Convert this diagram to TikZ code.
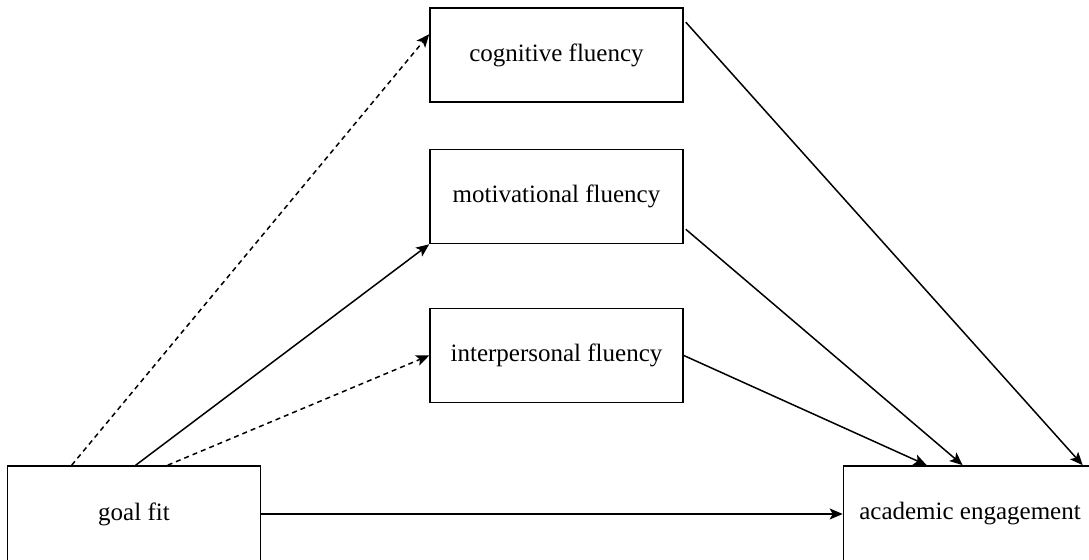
\documentclass[tikz,border=0pt]{standalone}
\usepackage{fontspec}
\setmainfont{Liberation Serif}
\usetikzlibrary{arrows.meta,calc}

\begin{document}
\begin{tikzpicture}[x=0.5pt, y=-0.5pt,
    box/.style={draw, line width=0.8pt, minimum width=126.5pt, minimum height=47pt,
                inner sep=0pt, font=\fontsize{12.5}{15}\selectfont},
    link/.style={-{Stealth[length=6.5pt, width=5.5pt, inset=1.5pt]}, line width=0.75pt},
    dlink/.style={link, dash pattern=on 2.5pt off 2pt}]
    \useasboundingbox (0,0) rectangle (1089,560);
    \clip (0,0) rectangle (1089,560);

    % mediators
    \node[box] (cog)   at (556.5,55)    {cognitive fluency};
    \node[box] (mot)   at (556.5,196.5) {motivational fluency};
    \node[box] (inter) at (556.5,355.5) {interpersonal fluency};

    % predictor and outcome (cut by the page edge)
    \node[box, minimum height=48pt] (goal) at (134,514) {goal fit};
    \node[box, minimum height=48pt] (acad) at (970,514) {academic engagement};

    % paths a
    \draw[dlink] ($(goal.north west)+(65,0)$)  -- ($(cog.north west)+(0,27)$);
    \draw[link]  ($(goal.north west)+(129,0)$) -- (mot.south west);
    \draw[dlink] ($(goal.north west)+(161,0)$) -- (inter.west);

    % paths b
    \draw[link] ($(cog.north east)+(2,15)$)   -- ($(acad.north west)+(240,0)$);
    \draw[link] ($(mot.south east)+(2,-15)$)  -- ($(acad.north west)+(120,0)$);
    \draw[link] (inter.east)                  -- ($(acad.north west)+(84,0)$);

    % direct path
    \draw[link] (goal.east) -- (acad.west);
\end{tikzpicture}
\end{document}
